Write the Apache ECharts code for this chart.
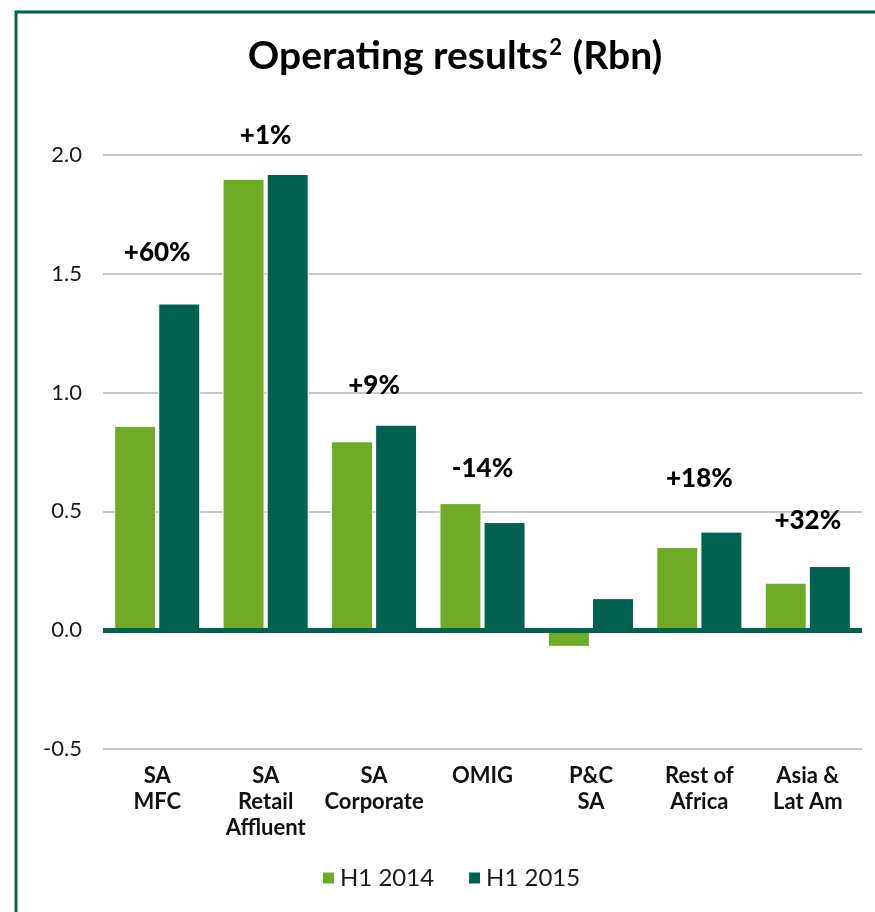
<!DOCTYPE html>
<html>
<head>
<meta charset="utf-8">
<script src="https://cdn.jsdelivr.net/npm/echarts@6/dist/echarts.min.js"></script>
<style>
  html, body { margin: 0; padding: 0; background: #fff; }
  #chart { width: 875px; height: 912px; }
</style>
</head>
<body>
<div id="chart"></div>
<script>
var categories = ["SA\nMFC", "SA\nRetail\nAffluent", "SA\nCorporate", "OMIG", "P&C\nSA", "Rest of\nAfrica", "Asia &\nLat Am"];
var h1_2014 = [0.86, 1.90, 0.795, 0.535, -0.07, 0.35, 0.20];
var h1_2015 = [1.375, 1.92, 0.865, 0.455, 0.135, 0.415, 0.27];
// change labels and where they sit (in axis units)
var changeText = ["+60%", "+1%", "+9%", "-14%", "", "+18%", "+32%"];
var changeY = [1.59, 2.08, 1.03, 0.68, null, 0.64, 0.46];
var yTicks = [-0.5, 0.0, 0.5, 1.0, 1.5, 2.0];

var lightGreen = "#6fab27";
var darkGreen = "#02624f";
var font = "Lato";

var myChart = echarts.init(document.getElementById("chart"));

var option = {
  animation: false,
  textStyle: { fontFamily: font },
  title: {
    text: "{t|Operating results}{s|2}{t| (Rbn)}",
    left: 450,
    top: 32,
    textAlign: "center",
    textStyle: {
      rich: {
        t: { fontFamily: font, fontSize: 39, fontWeight: "bold", color: "#000" },
        s: { fontFamily: font, fontSize: 22, fontWeight: "bold", color: "#000", verticalAlign: "top", padding: [0, 1, 16, 1] }
      }
    }
  },
  graphic: [
    {
      type: "rect",
      shape: { x: 16, y: 12, width: 900, height: 960 },
      style: { fill: "none", stroke: darkGreen, lineWidth: 3 },
      silent: true
    }
  ],
  legend: {
    data: ["H1 2014", "H1 2015"],
    bottom: 17,
    left: 316,
    itemWidth: 13,
    itemHeight: 13,
    itemGap: 33,
    icon: "rect",
    textStyle: { fontFamily: font, fontSize: 24, color: "#1a1a1a" }
  },
  grid: { left: 103, right: 13, top: 155, bottom: 163 },
  xAxis: {
    type: "category",
    data: categories,
    axisLine: { show: false, onZero: false },
    axisTick: { show: false },
    axisLabel: {
      margin: 14,
      interval: 0,
      fontFamily: font,
      fontSize: 22,
      fontWeight: "bold",
      lineHeight: 26,
      color: "#111",
      verticalAlign: "top"
    }
  },
  yAxis: {
    type: "value",
    min: yTicks[0],
    max: yTicks[yTicks.length - 1],
    interval: 0.5,
    axisLine: { show: false },
    axisTick: { show: false },
    axisLabel: {
      margin: 21,
      fontFamily: font,
      fontSize: 22,
      color: "#1a1a1a",
      formatter: function (v) { return v.toFixed(1); }
    },
    splitLine: { lineStyle: { color: "#c8c8c8", width: 2 } }
  },
  series: [
    {
      name: "H1 2014",
      type: "bar",
      data: h1_2014,
      barWidth: 42,
      barGap: "5%",
      itemStyle: { color: lightGreen, borderColor: "#fff", borderWidth: 1 },
      markLine: {
        silent: true,
        symbol: "none",
        label: { show: false },
        lineStyle: { color: darkGreen, width: 5, type: "solid" },
        data: [{ yAxis: 0 }]
      }
    },
    {
      name: "H1 2015",
      type: "bar",
      data: h1_2015,
      barWidth: 42,
      itemStyle: { color: darkGreen, borderColor: "#fff", borderWidth: 1 }
    },
    {
      name: "change",
      type: "scatter",
      data: changeY,
      symbolSize: 0,
      clip: false,
      silent: true,
      itemStyle: { opacity: 1 },
      label: {
        show: true,
        position: "inside",
        fontFamily: font,
        fontSize: 26,
        fontWeight: 900,
        color: "#000",
        formatter: function (p) { return changeText[p.dataIndex]; }
      }
    }
  ]
};

myChart.setOption(option);
</script>
</body>
</html>
